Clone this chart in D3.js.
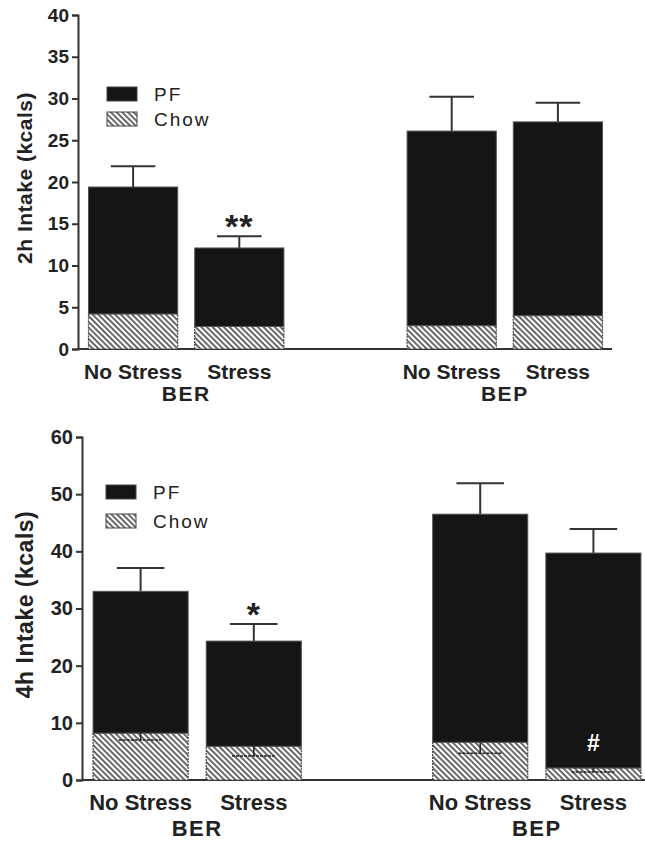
<!DOCTYPE html>
<html>
<head>
<meta charset="utf-8">
<script src="https://cdn.jsdelivr.net/npm/d3@7"></script>
<style>
  body { margin: 0; background: #fff; }
  svg text { font-family: "Liberation Sans", Arial, sans-serif; font-weight: bold; fill: #222; }
</style>
</head>
<body>
<div id="chart"></div>
<script>
// data
const groups = ["BER", "BEP"];
const conditions = ["No Stress", "Stress"];
const bars = ["BER-No Stress", "BER-Stress", "gap", "BEP-No Stress", "BEP-Stress"];

const chow2h = [4.2, 2.7, 2.8, 4.0];
const pf2h = [15.2, 9.4, 23.3, 23.2];
const sem2h = [2.5, 1.4, 4.1, 2.3];
const marks2h = ["", "**", "", ""];
const ticks2h = [0, 5, 10, 15, 20, 25, 30, 35, 40];

const chow4h = [8.2, 5.9, 6.6, 2.1];
const pf4h = [24.8, 18.4, 39.9, 37.6];
const sem4h = [4.1, 3.0, 5.4, 4.2];
const chowSem4h = [1.2, 1.7, 1.9, 0.7];
const marks4h = ["", "*", "", ""];
const innerMarks4h = ["", "", "", "#"];
const ticks4h = [0, 10, 20, 30, 40, 50, 60];

const legendItems = ["PF", "Chow"];

const svg = d3.select("#chart").append("svg")
  .attr("width", 645).attr("height", 841);

const defs = svg.append("defs");
const pat = defs.append("pattern")
  .attr("id", "hatch")
  .attr("patternUnits", "userSpaceOnUse")
  .attr("width", 4).attr("height", 4)
  .attr("patternTransform", "rotate(45)");
pat.append("rect").attr("width", 4).attr("height", 4).attr("fill", "#fff");
pat.append("rect").attr("width", 4).attr("height", 1.8).attr("fill", "#5a5a5a");

function panel(o) {
  const y = d3.scaleLinear().domain([0, o.max]).range([o.y0, o.y1]);
  const x = d3.scaleBand().domain(bars).range(o.xr).paddingInner(0.16).paddingOuter(0.08);
  const keys = bars.filter(d => d !== "gap");
  const g = svg.append("g");

  // y axis
  const ax = g.append("g")
    .attr("transform", "translate(" + o.ax + ",0)")
    .call(d3.axisLeft(y).tickValues(o.ticks).tickSize(6).tickPadding(3));
  ax.select(".domain").attr("stroke", "#333").attr("stroke-width", 2);
  ax.selectAll(".tick line").attr("stroke", "#333").attr("stroke-width", 2);
  ax.selectAll(".tick text").style("font-size", o.fs + "px").attr("fill", "#222");

  // x axis line
  g.append("line")
    .attr("x1", o.ax).attr("x2", o.xEnd)
    .attr("y1", y(0)).attr("y2", y(0))
    .attr("stroke", "#333").attr("stroke-width", 2);

  g.append("text")
    .attr("transform", "translate(" + o.titleX + "," + ((o.y0 + o.y1) / 2 - 4) + ") rotate(-90)")
    .attr("text-anchor", "middle")
    .style("font-size", o.titleFs + "px")
    .style("letter-spacing", "0.5px")
    .text(o.title);

  // error bars (drawn first so bar top hides the stem)
  keys.forEach((k, i) => {
    const cx = x(k) + x.bandwidth() / 2;
    const top = o.chow[i] + o.pf[i];
    const hw = x.bandwidth() * 0.25;
    g.append("line").attr("x1", cx).attr("x2", cx)
      .attr("y1", y(top)).attr("y2", y(top + o.sem[i]))
      .attr("stroke", "#333").attr("stroke-width", 2);
    g.append("line").attr("x1", cx - hw).attr("x2", cx + hw)
      .attr("y1", y(top + o.sem[i])).attr("y2", y(top + o.sem[i]))
      .attr("stroke", "#333").attr("stroke-width", 2);
  });

  // chow (hatched)
  g.selectAll(".chow").data(keys).enter().append("rect")
    .attr("class", "chow")
    .attr("x", d => x(d))
    .attr("width", x.bandwidth())
    .attr("y", (d, i) => y(o.chow[i]))
    .attr("height", (d, i) => y(0) - y(o.chow[i]))
    .attr("fill", "url(#hatch)")
    .attr("stroke", "#444").attr("stroke-width", 1.2)
    .attr("stroke-dasharray", "2,1");

  // PF (black)
  g.selectAll(".pf").data(keys).enter().append("rect")
    .attr("class", "pf")
    .attr("x", d => x(d))
    .attr("width", x.bandwidth())
    .attr("y", (d, i) => y(o.chow[i] + o.pf[i]))
    .attr("height", (d, i) => y(o.chow[i]) - y(o.chow[i] + o.pf[i]))
    .attr("fill", "#151515")
    .attr("stroke", "#555").attr("stroke-width", 1);

  // chow error bars (downward, inside hatch)
  if (o.chowSem) {
    keys.forEach((k, i) => {
      const cx = x(k) + x.bandwidth() / 2;
      const hw = x.bandwidth() * 0.23;
      const lo = o.chow[i] - o.chowSem[i];
      g.append("line").attr("x1", cx).attr("x2", cx)
        .attr("y1", y(o.chow[i])).attr("y2", y(lo))
        .attr("stroke", "#222").attr("stroke-width", 1.5);
      g.append("line").attr("x1", cx - hw).attr("x2", cx + hw)
        .attr("y1", y(lo)).attr("y2", y(lo))
        .attr("stroke", "#222").attr("stroke-width", 1.5)
        .attr("stroke-dasharray", "3,1");
    });
  }

  // significance marks
  keys.forEach((k, i) => {
    const cx = x(k) + x.bandwidth() / 2;
    if (o.marks[i]) {
      g.append("text").attr("x", cx).attr("y", y(o.chow[i] + o.pf[i] + o.sem[i]) + 2)
        .attr("text-anchor", "middle").style("font-size", "34px")
        .style("letter-spacing", "1px")
        .text(o.marks[i]);
    }
    if (o.inner && o.inner[i]) {
      g.append("text").attr("x", cx).attr("y", y(o.chow[i]) - 17)
        .attr("text-anchor", "middle").style("font-size", "23px")
        .style("fill", "#fff")
        .text(o.inner[i]);
    }
  });

  // category labels
  keys.forEach((k, i) => {
    g.append("text")
      .attr("x", x(k) + x.bandwidth() / 2)
      .attr("y", y(0) + o.labY)
      .attr("text-anchor", "middle")
      .style("font-size", o.labFs + "px")
      .text(conditions[i % 2]);
  });
  groups.forEach((gr, j) => {
    const a = x(keys[j * 2]), b = x(keys[j * 2 + 1]) + x.bandwidth();
    g.append("text")
      .attr("x", (a + b) / 2)
      .attr("y", y(0) + o.grpY)
      .attr("text-anchor", "middle")
      .style("font-size", o.labFs + "px")
      .style("letter-spacing", "1.5px")
      .text(gr);
  });

  // legend
  legendItems.forEach((name, i) => {
    const ly = o.legY + i * o.legStep;
    g.append("rect").attr("x", o.legX).attr("y", ly)
      .attr("width", 30).attr("height", 14)
      .attr("fill", i === 0 ? "#151515" : "url(#hatch)")
      .attr("stroke", "#444").attr("stroke-width", 1);
    g.append("text").attr("x", o.legX + 47).attr("y", ly + 14)
      .style("font-size", "19px").style("font-weight", "normal")
      .style("letter-spacing", "2px")
      .text(name);
  });
}

panel({
  max: 40, y0: 349, y1: 15, ax: 78, xr: [80, 611], xEnd: 612,
  ticks: ticks2h, chow: chow2h, pf: pf2h, sem: sem2h, marks: marks2h,
  fs: 19, titleFs: 21, labFs: 21, labY: 30, grpY: 52,
  title: "2h Intake (kcals)", titleX: 32, legX: 107, legY: 87, legStep: 25
});

panel({
  max: 60, y0: 780, y1: 437, ax: 82, xr: [84, 650], xEnd: 645,
  ticks: ticks4h, chow: chow4h, pf: pf4h, sem: sem4h, chowSem: chowSem4h,
  marks: marks4h, inner: innerMarks4h,
  fs: 20, titleFs: 23, labFs: 22, labY: 30, grpY: 56,
  title: "4h Intake (kcals)", titleX: 33, legX: 106, legY: 485, legStep: 29
});
</script>
</body>
</html>
